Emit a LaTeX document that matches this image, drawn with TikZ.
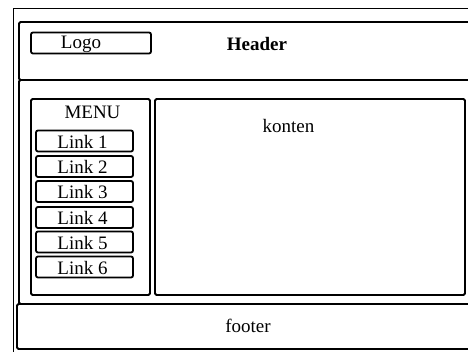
\documentclass[tikz,border=0pt]{standalone}
\usepackage{fontspec}
\setmainfont{Liberation Serif}
\begin{document}
\begin{tikzpicture}[x=1pt,y=-1pt,
  frame/.style={draw=black,line width=1.8pt,rounded corners=1.5pt},
  thinframe/.style={draw=black,line width=1pt},
  btn/.style={draw=black,line width=1.8pt,rounded corners=2pt,inner sep=0pt,minimum width=97pt,minimum height=21pt},
  lbl/.style={inner sep=0pt,anchor=base,font=\fontsize{19}{20}\selectfont}]
\useasboundingbox (0,0) rectangle (468,352);
\clip (0,0) rectangle (468,352);
\fill[white] (0,0) rectangle (468,352);
\draw[thinframe] (13,9) rectangle (490,370);
% header
\draw[frame] (19,22) rectangle (490,80);
\node[btn,minimum width=120pt] (logo) at (91,43) {};
\node[lbl] (logotext) at (81,49) {Logo};
\node[lbl,font=\fontsize{19}{20}\selectfont\bfseries] (header) at (257,50.5) {Header};
% body
\draw[frame] (19,80) rectangle (490,304);
\node[frame,inner sep=0pt,minimum width=119pt,minimum height=196pt] (menu) at (90.5,197) {};
\node[frame,inner sep=0pt,minimum width=310pt,minimum height=196pt] (konten) at (310,197) {};
\node[lbl] (menutitle) at (92.5,118.5) {MENU};
\node[lbl] (kontentext) at (288.5,132.7) {konten};
\foreach \i/\y in {1/141,2/166.5,3/191.5,4/217.5,5/242,6/267}{
  \node[btn] (l\i) at (84.5,\y) {};
  \node[lbl] (t\i) at (82.5,\y+7.2) {Link \i};
}
% footer
\draw[frame] (17,304) rectangle (490,349);
\node[lbl] (footer) at (248,332.5) {footer};
\end{tikzpicture}
\end{document}
